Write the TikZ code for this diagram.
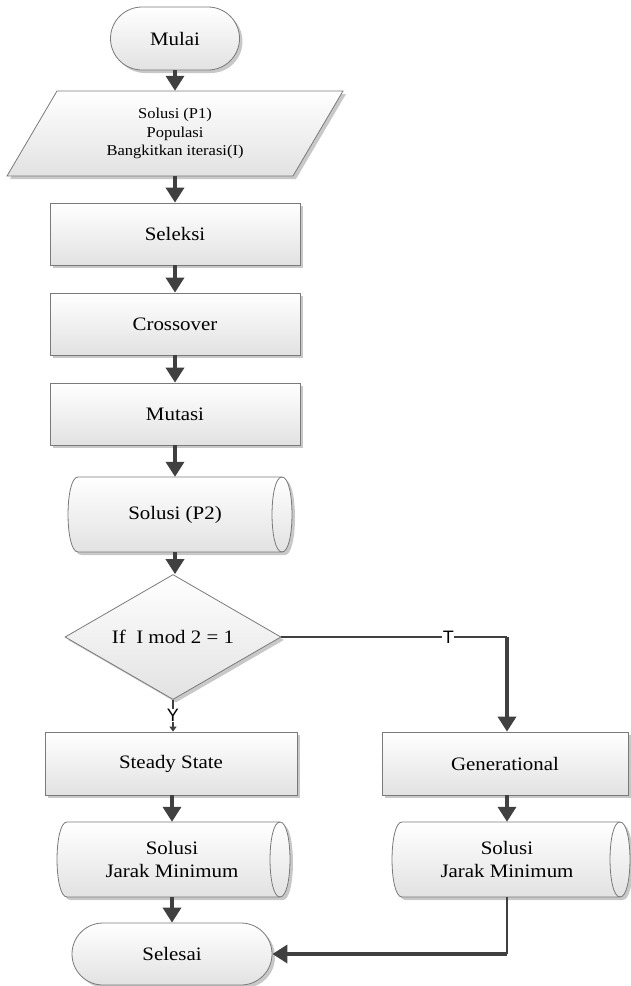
\documentclass[tikz,border=0pt]{standalone}
\usepackage{fontspec}
\setmainfont{Liberation Serif}[FakeStretch=1.1]
\newfontfamily\lblfont{Liberation Sans}
\usetikzlibrary{shapes.geometric,shapes.misc,shadows,arrows.meta}
\definecolor{bordc}{HTML}{7A7A7A}
\definecolor{arrc}{HTML}{404040}
\definecolor{shadc}{HTML}{C8C8C8}
\definecolor{botc}{HTML}{E2E2E2}
\tikzset{
  shapebase/.style={draw=bordc, line width=0.8pt, top color=white, bottom color=botc,
     drop shadow={shadow xshift=3pt, shadow yshift=-3pt, fill=shadc, opacity=1},
     font=\fontsize{19}{23}\selectfont, inner sep=0pt, align=center},
  procbox/.style={shapebase, rectangle},
  termbox/.style={shapebase, rounded rectangle},
  decbox/.style={shapebase, diamond},
  anchorbox/.style={rectangle, inner sep=0pt, align=center},
  flowarr/.style={draw=arrc, line width=3.5pt, -{Triangle[width=18pt,length=15pt]}},
  lineonly/.style={draw=arrc, line width=2.7pt},
  smallarr/.style={draw=arrc, line width=2pt, -{Triangle[width=7pt,length=5pt]}},
  branchlbl/.style={fill=white, inner sep=0.5pt, font=\lblfont\fontsize{18}{20}\selectfont}
}
% storage shape: x0 x1 ytop ybot
\newcommand\storeshape[4]{%
  \fill[shadc] ({#1+13},{#3+3}) -- ({#2-7},{#3+3}) .. controls ({#2+6.3},{#3+3}) and ({#2+6.3},{#4+3}) .. ({#2-7},{#4+3})
     -- ({#1+13},{#4+3}) .. controls ({#1-0.3},{#4+3}) and ({#1-0.3},{#3+3}) .. ({#1+13},{#3+3}) -- cycle;
  \path[draw=bordc, line width=0.8pt, top color=white, bottom color=botc]
     ({#1+10},#3) -- ({#2-10},#3) .. controls ({#2+3.3},#3) and ({#2+3.3},#4) .. ({#2-10},#4)
     -- ({#1+10},#4) .. controls ({#1-3.3},#4) and ({#1-3.3},#3) .. ({#1+10},#3) -- cycle;
  \draw[bordc, line width=0.8pt] ({#2-10},#3) .. controls ({#2-23.3},#3) and ({#2-23.3},#4) .. ({#2-10},#4);
}
\begin{document}
\begin{tikzpicture}[x=1pt,y=-1pt]
\useasboundingbox (0,0) rectangle (630,986);
% start
\node[termbox, minimum width=129pt, minimum height=63pt] (mulai) at (175,38.5) {Mulai};
% parallelogram input
\fill[shadc] (60,94) -- (346,94) -- (296,179) -- (10,179) -- cycle;
\path[draw=bordc, line width=0.8pt, top color=white, bottom color=botc] (57,91) -- (343,91) -- (293,176) -- (7,176) -- cycle;
\node[anchorbox, minimum width=236pt, minimum height=85pt, font=\fontsize{15}{18.5}\selectfont] (p1) at (175,133.5)
  {Solusi (P1)\\Populasi\\Bangkitkan iterasi(I)};
% process boxes
\node[procbox, minimum width=250pt, minimum height=62pt] (seleksi) at (175,234) {Seleksi};
\node[procbox, minimum width=250pt, minimum height=62pt] (cross) at (175,324) {Crossover};
\node[procbox, minimum width=250pt, minimum height=62pt] (mutasi) at (175,414) {Mutasi};
% storage P2
\storeshape{68}{292}{477}{552}
\node[anchorbox, minimum width=224pt, minimum height=75pt, font=\fontsize{19}{23}\selectfont] (p2) at (175,514.5) {Solusi (P2)};
% decision
\node[decbox, minimum width=216pt, minimum height=125pt, aspect=1.728] (dec) at (173,637) {If~~I mod 2 = 1};
% branches
\node[procbox, minimum width=252pt, minimum height=63pt] (steady) at (171,763.5) {Steady State};
\node[procbox, minimum width=246pt, minimum height=63pt] (gen) at (505,763.5) {Generational};
% storages result
\storeshape{57}{290}{822}{897}
\node[anchorbox, minimum width=233pt, minimum height=75pt, font=\fontsize{19}{23}\selectfont] (s3) at (172,859.5) {Solusi\\Jarak Minimum};
\storeshape{392}{630}{822}{897}
\node[anchorbox, minimum width=238pt, minimum height=75pt, font=\fontsize{19}{23}\selectfont] (s4) at (507,859.5) {Solusi\\Jarak Minimum};
% end
\node[termbox, minimum width=200pt, minimum height=62pt] (selesai) at (172,954) {Selesai};
% connectors
\draw[flowarr] (mulai.south) -- (mulai.south |- p1.north);
\draw[flowarr] (p1.south) -- (p1.south |- seleksi.north);
\draw[flowarr] (seleksi.south) -- (seleksi.south |- cross.north);
\draw[flowarr] (cross.south) -- (cross.south |- mutasi.north);
\draw[flowarr] (mutasi.south) -- (mutasi.south |- p2.north);
\draw[flowarr] (p2.south) -- (p2.south |- dec.north);
\draw[smallarr] (dec.south) -- node[branchlbl, pos=0.5] (ylbl) {Y} (dec.south |- steady.north);
\coordinate (tcorner) at (507,637);
\draw[lineonly] (dec.east) -- node[branchlbl, pos=0.74] (tlbl) {T} (tcorner);
\draw[flowarr] (tcorner) -- (tcorner |- gen.north);
\draw[flowarr] (steady.south -| s3.north) -- (s3.north);
\draw[flowarr] (gen.south -| s4.north) -- (s4.north);
\draw[flowarr] (s3.south) -- (s3.south |- selesai.north);
\coordinate (ecorner) at (507,954);
\draw[lineonly] (s4.south) -- (ecorner);
\draw[flowarr] (ecorner) -- (selesai.east);
\end{tikzpicture}
\end{document}
